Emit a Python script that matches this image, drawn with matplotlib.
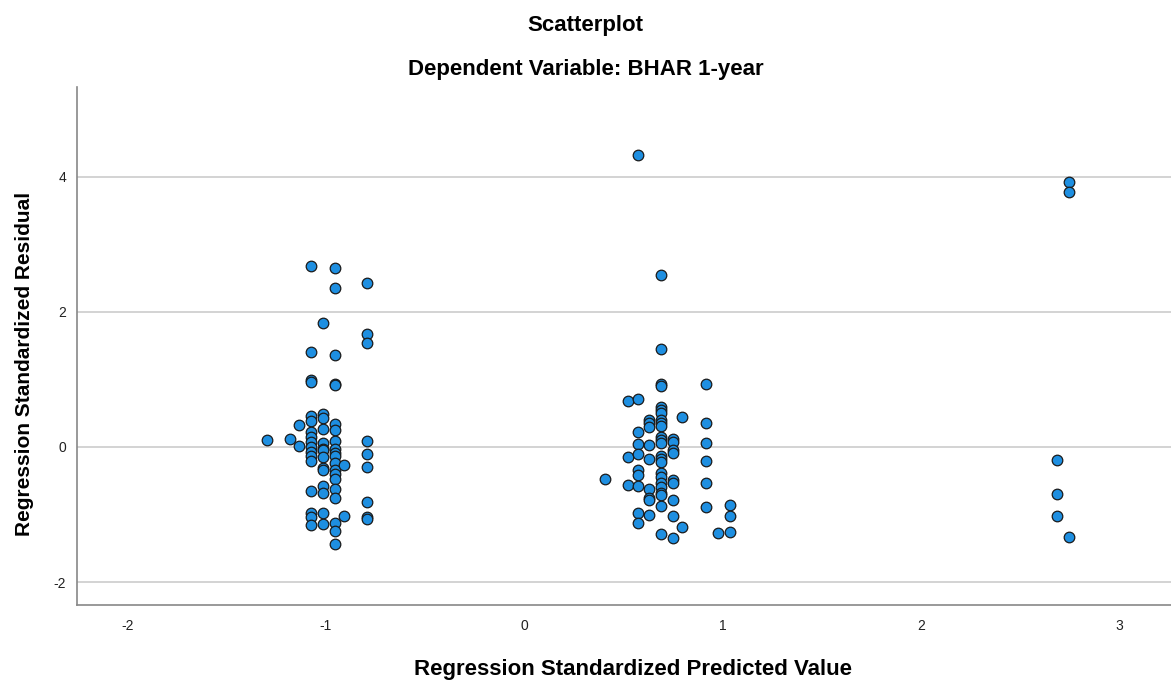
import matplotlib.pyplot as plt

plt.rcParams['font.family'] = ['Liberation Sans', 'DejaVu Sans']
plt.rcParams['axes.unicode_minus'] = False

# Predicted values form vertical columns; residuals of each column
col_pred = [-1.297, -1.181, -1.133, -1.075, -1.013, -0.954, -0.907, -0.793,
            0.408, 0.526, 0.575, 0.632, 0.692, 0.750, 0.797, 0.915, 0.980, 1.037,
            2.686, 2.747]

col_resid = [
    [0.104],
    [0.114],
    [0.326, 0.015],
    [2.686, 1.407, 0.985, 0.967, 0.464, 0.390, 0.227, 0.153, 0.079, 0.005,
     -0.069, -0.133, -0.203, -0.647, -0.973, -1.032, -1.156],
    [1.840, 0.489, 0.425, 0.267, 0.064, -0.030, -0.044, -0.153, -0.316, -0.341,
     -0.578, -0.677, -0.983, -1.141],
    [2.647, 2.350, 1.363, 0.933, 0.920, 0.341, 0.252, 0.089, -0.035, -0.094,
     -0.128, -0.242, -0.341, -0.400, -0.479, -0.627, -0.761, -1.131, -1.244, -1.437],
    [-0.267, -1.017],
    [2.425, 1.670, 1.545, 0.089, -0.109, -0.291, -0.815, -1.032, -1.062],
    [-0.474],
    [0.686, -0.153, -0.563],
    [4.326, 0.711, 0.227, 0.044, -0.104, -0.341, -0.415, -0.573, -0.983, -1.131],
    [0.400, 0.350, 0.290, 0.030, -0.178, -0.627, -0.761, -0.785, -1.007],
    [2.553, 1.452, 0.930, 0.910, 0.597, 0.548, 0.509, 0.400, 0.350, 0.311,
     0.153, 0.104, 0.054, -0.128, -0.178, -0.217, -0.390, -0.440, -0.528, -0.588,
     -0.686, -0.711, -0.869, -1.294],
    [0.119, 0.079, -0.044, -0.094, -0.489, -0.538, -0.785, -1.017, -1.353],
    [0.440, -1.190],
    [0.928, 0.360, 0.064, -0.212, -0.538, -0.896],
    [-1.267],
    [-0.854, -1.020, -1.254],
    [-0.190, -0.700, -1.020],
    [3.930, 3.770, -1.330],
]

x_ticks = [-2, -1, 0, 1, 2, 3]
y_ticks = [-2, 0, 2, 4]

pred_x = [p for p, ys in zip(col_pred, col_resid) for _ in ys]
resid_y = [r for ys in col_resid for r in ys]

fig = plt.figure(figsize=(11.71, 6.82), dpi=100)
ax = fig.add_axes([0.0658, 0.1129, 0.9342, 0.7595])

# Horizontal reference lines at the y ticks
for yv in y_ticks:
    ax.axhline(yv, color='#d0d0d0', lw=1.3, zorder=1)

ax.scatter(pred_x, resid_y, s=58, facecolor='#1e8fe1', edgecolor='#1a1a1a',
           linewidths=0.9, zorder=3)

ax.set_xlim(-2.253, 3.261)
ax.set_ylim(-2.34, 5.33)
ax.set_xticks(x_ticks)
ax.set_yticks(y_ticks)
ax.tick_params(length=0, labelsize=10, labelcolor='#222222', pad=10)
ax.tick_params(axis='y', pad=8)

for side in ['top', 'right']:
    ax.spines[side].set_visible(False)
for side in ['left', 'bottom']:
    ax.spines[side].set_color('#888888')
    ax.spines[side].set_linewidth(1.2)

ax.set_xlabel('Regression Standardized Predicted Value', fontsize=16,
              fontweight='bold', va='center')
ax.xaxis.set_label_coords(0.508, -0.124)
ax.set_ylabel('Regression Standardized Residual', fontsize=15,
              fontweight='bold', va='center')
ax.yaxis.set_label_coords(-0.048, 0.465)

fig.text(0.5, 0.962, 'Scatterplot', ha='center', va='center',
         fontsize=16, fontweight='bold')
fig.text(0.5, 0.898, 'Dependent Variable: BHAR 1-year', ha='center',
         va='center', fontsize=16, fontweight='bold')

fig.savefig('out.png', dpi=100)
